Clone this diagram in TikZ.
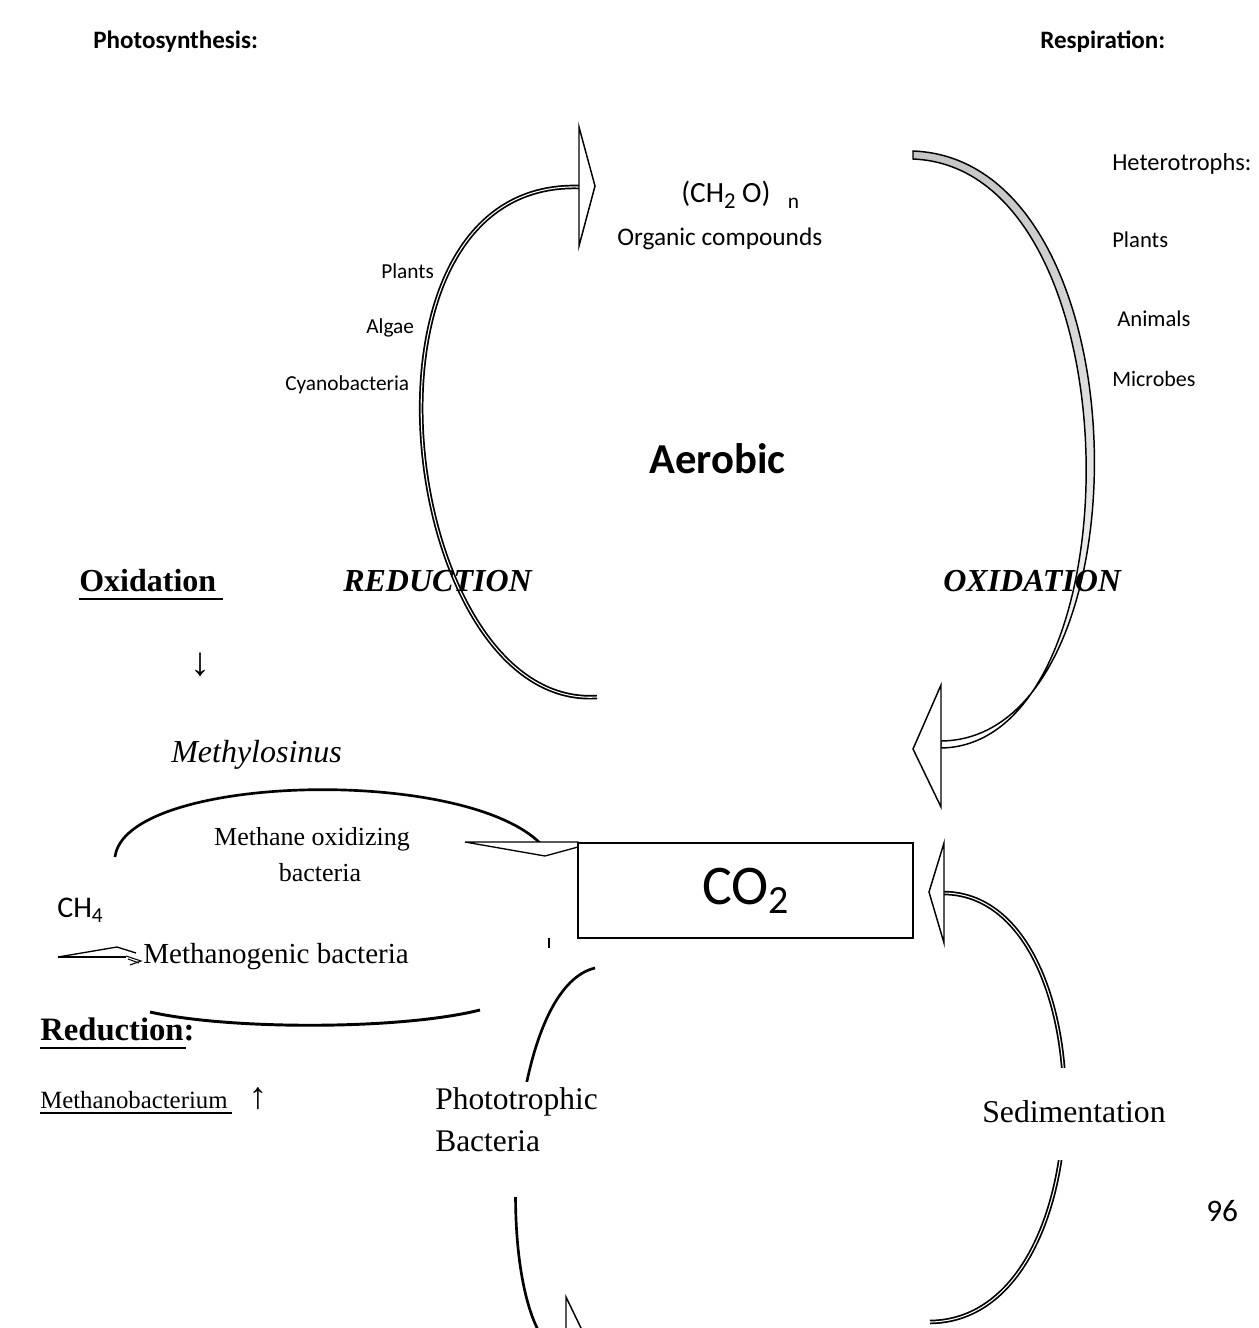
\documentclass[tikz,border=0pt]{standalone}
\usepackage{fontspec}
\setmainfont{Liberation Serif}
\newfontfamily\calfont{Carlito}
\newcommand\lowsub[3]{\raisebox{-#2}{\fontsize{#1}{#1}\selectfont #3}}
\begin{document}
\begin{tikzpicture}[x=0.75pt,y=-0.75pt,
  lbl/.style={inner sep=0pt, anchor=base west},
  dbl/.style={draw, line width=1.3pt, double=white, double distance=0.8pt},
  head/.style={draw, line width=1.1pt, fill=white, line join=miter},
  arcline/.style={line width=2pt},
  sfl/.style={font=\calfont\fontsize{17}{20}\selectfont},
  sfs/.style={font=\calfont\fontsize{16}{19}\selectfont},
  sftitle/.style={font=\calfont\bfseries\fontsize{18.8}{22}\selectfont},
  rmbi/.style={font=\bfseries\itshape\fontsize{24}{28}\selectfont}]
\useasboundingbox (0,0) rectangle (1258,1328);
\clip (0,0) rectangle (1258,1328);

% ---------- arcs ----------
\coordinate (la0) at (597,697);
\coordinate (la1) at (579,187);
\draw[dbl] (la0) .. controls (400,710) and (335,180) .. (la1);
\draw[head] (579,127) -- (595,186) -- (579,246) -- cycle;

\draw[line width=1.1pt, top color=gray!45, bottom color=white]
  (913,151) .. controls (1150,160) and (1150,739) .. (941,741)
  -- (941,748) .. controls (1139,745) and (1139,168) .. (913,159) -- cycle;
\draw[head] (941,685) -- (913,749) -- (941,807) -- cycle;

\coordinate (rb0) at (930,1322);
\coordinate (rb1) at (944,893);
\draw[dbl] (rb0) .. controls (1107,1320) and (1107,895) .. (rb1);
\draw[head] (944,843) -- (929,892) -- (944,943) -- cycle;

\coordinate (lb0) at (595,968);
\coordinate (lb1) at (566,1357);
\draw[arcline] (lb0) .. controls (500,990) and (490,1340) .. (lb1);
\draw[head] (566,1297) -- (595,1357) -- (566,1417) -- cycle;

\fill[white] (480,1082) rectangle (560,1197);
\fill[white] (1040,1068) rectangle (1085,1160);

% methane loop
\coordinate (m0) at (115,857);
\coordinate (m1) at (540,843);
\draw[arcline] (m0) .. controls (125,775) and (460,765) .. (m1);
\draw[head, line width=1pt] (465,842) -- (578,842) -- (578,847) -- (545,856) -- cycle;
\coordinate (n0) at (150,1012);
\coordinate (n1) at (480,1010);
\draw[line width=2.2pt] (n0) .. controls (230,1030) and (400,1030) .. (n1);
\draw[line width=1.2pt] (549,938) -- (549,948);
\draw[line width=1pt, line join=miter] (58,957) -- (117,947) -- (136,953);
\draw[line width=1pt] (58,957) -- (126,957);
\draw[line width=0.8pt] (126,956) -- (141,961) -- (130,965);
\draw[line width=0.8pt] (128,959) -- (139,963);

% ---------- CO2 box ----------
\node[draw, line width=1.5pt, minimum width=251.25pt, minimum height=71.25pt, inner sep=0pt,
  font=\calfont\fontsize{42}{48}\selectfont] (co2) at (745.5,890.5) {CO\lowsub{30}{7pt}{2}};

% ---------- texts ----------
\node[lbl, sftitle] (photo) at (93,48) {Photosynthesis:};
\node[lbl, sftitle] (resp) at (1040,48) {Respiration:};
\node[lbl, font=\calfont\fontsize{22}{25}\selectfont] (ch2o) at (681,202)
  {(CH\lowsub{17}{5pt}{2}\hspace{5pt}O)\hspace{13pt}\lowsub{16}{5pt}{n}};
\node[lbl, font=\calfont\fontsize{19}{22}\selectfont] (org) at (617,245) {Organic compounds};

\node[lbl, font=\calfont\fontsize{18.3}{20}\selectfont] (het) at (1112,170) {Heterotrophs:};
\node[lbl, sfl] (plr) at (1112,247) {Plants};
\node[lbl, sfl] (ani) at (1117,326) {Animals};
\node[lbl, font=\calfont\fontsize{16.5}{20}\selectfont] (mic) at (1112,386) {Microbes};

\node[lbl, sfs] (pll) at (381,278) {Plants};
\node[lbl, sfs] (alg) at (366,333) {Algae};
\node[lbl, sfs] (cya) at (285,390) {Cyanobacteria};

\node[lbl, font=\calfont\bfseries\fontsize{32}{38}\selectfont] (aer) at (649,473) {Aerobic};

\node[lbl, font=\bfseries\fontsize{24}{28}\selectfont] (oxl) at (79,591) {Oxidation};
\draw[line width=2pt] (79,599) -- (223,599);
\node[lbl, rmbi] (red) at (343,591) {REDUCTION};
\node[lbl, rmbi] (oxr) at (943,591) {OXIDATION};
\node[inner sep=0pt, font=\fontsize{30}{32}\selectfont] (down) at (200,665) {↓};

\node[lbl, font=\itshape\fontsize{24}{28}\selectfont] (methy) at (171,762) {Methylosinus};
\node[inner sep=0pt, anchor=base, font=\fontsize{19.5}{23}\selectfont] (mox) at (312,845) {Methane oxidizing};
\node[inner sep=0pt, anchor=base, font=\fontsize{19.5}{23}\selectfont] (mox2) at (320,881) {bacteria};
\node[lbl, font=\calfont\fontsize{22.5}{26}\selectfont] (ch4) at (57,917) {CH\lowsub{16}{4pt}{4}};
\node[lbl, font=\fontsize{21.8}{25}\selectfont] (mgen) at (143,963) {Methanogenic bacteria};

\node[lbl, font=\bfseries\fontsize{24.5}{30}\selectfont] (redl) at (40,1040) {Reduction:};
\draw[line width=2pt] (40,1048) -- (186,1048);
\node[lbl, font=\fontsize{18.6}{22}\selectfont] (mbac) at (40,1108) {Methanobacterium};
\draw[line width=1.2pt] (40,1113) -- (232,1113);
\node[inner sep=0pt, font=\fontsize{28}{30}\selectfont] (up) at (258,1099) {↑};

\node[lbl, font=\fontsize{23.6}{28}\selectfont] (photr) at (435,1109) {Phototrophic};
\node[lbl, font=\fontsize{23.6}{28}\selectfont] (bact) at (435,1151) {Bacteria};
\node[lbl, font=\fontsize{23.8}{26}\selectfont] (sed) at (982,1122) {Sedimentation};
\node[lbl, font=\calfont\fontsize{23.5}{28}\selectfont] (pg) at (1206,1221) {96};
\end{tikzpicture}
\end{document}
